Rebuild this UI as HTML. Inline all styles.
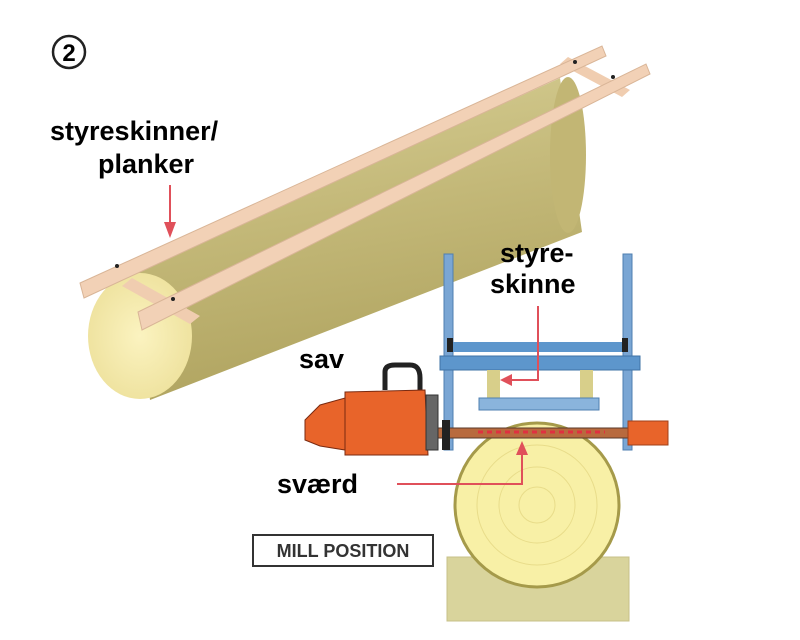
<!DOCTYPE html>
<html><head><style>
body{margin:0;background:#fff;}
svg{display:block}
text{font-family:"Liberation Sans",Arial,sans-serif;font-weight:bold;fill:#000}
</style></head><body>
<svg width="800" height="640" viewBox="0 0 800 640" xmlns="http://www.w3.org/2000/svg">
<defs>
<linearGradient id="lg" x1="0" y1="0" x2="0.25" y2="1">
<stop offset="0" stop-color="#d8d096"/><stop offset="0.5" stop-color="#c3b878"/><stop offset="1" stop-color="#b0a460"/>
</linearGradient>
<radialGradient id="ring" cx="0.5" cy="0.5" r="0.5">
<stop offset="0" stop-color="#fbf3c0"/><stop offset="1" stop-color="#efe3a0"/>
</radialGradient>
</defs>
<circle cx="69" cy="52" r="16" fill="none" stroke="#222" stroke-width="2.5"/>
<text x="69" y="61" font-size="24" text-anchor="middle">2</text>

<!-- log body -->
<polygon points="135,272 560,78 582,232 150,400" fill="url(#lg)"/>
<ellipse cx="568" cy="155" rx="18" ry="78" fill="#c2b674"/>
<ellipse cx="140" cy="336" rx="52" ry="63" fill="url(#ring)"/>
<!-- cross pieces -->
<polygon points="122,286 132,278 200,316 190,324" fill="#f0cdb0"/>
<polygon points="560,64 568,57 630,90 622,97" fill="#f0cdb0"/>
<!-- rails -->
<polygon points="80,283 602,46 606,56 84,298" fill="#f2d1b6" stroke="#d9b597" stroke-width="1"/>
<polygon points="138,312 646,64 650,74 142,330" fill="#f2d1b6" stroke="#d9b597" stroke-width="1"/>
<circle cx="117" cy="266" r="2" fill="#222"/><circle cx="173" cy="299" r="2" fill="#222"/>
<circle cx="575" cy="62" r="2" fill="#222"/><circle cx="613" cy="77" r="2" fill="#222"/>

<text x="50" y="140" font-size="27">styreskinner/</text>
<text x="98" y="173" font-size="27">planker</text>
<line x1="170" y1="185" x2="170" y2="228" stroke="#e0505a" stroke-width="2"/>
<polygon points="164,222 176,222 170,238" fill="#e0505a"/>

<!-- mill -->
<rect x="444" y="254" width="9" height="196" fill="#7aa6d4" stroke="#4f7fb0"/>
<rect x="623" y="254" width="9" height="196" fill="#7aa6d4" stroke="#4f7fb0"/>
<rect x="452" y="342" width="170" height="10" fill="#5d96cc"/>
<rect x="440" y="356" width="200" height="14" fill="#5d96cc" stroke="#3f73a6"/>
<rect x="447" y="338" width="6" height="14" fill="#222"/><rect x="622" y="338" width="6" height="14" fill="#222"/>
<rect x="487" y="370" width="13" height="32" fill="#d8cf8a"/>
<rect x="580" y="370" width="13" height="32" fill="#d8cf8a"/>
<rect x="447" y="557" width="182" height="64" fill="#d9d49c" stroke="#c7c088"/>
<circle cx="537" cy="505" r="82" fill="#f8f0a6" stroke="#a59a4a" stroke-width="3"/>
<circle cx="537" cy="505" r="60" fill="none" stroke="#e8dc8a" stroke-width="1"/>
<circle cx="537" cy="505" r="38" fill="none" stroke="#e8dc8a" stroke-width="1"/>
<circle cx="537" cy="505" r="18" fill="none" stroke="#e8dc8a" stroke-width="1"/>
<rect x="479" y="398" width="120" height="12" fill="#8ab4dc" stroke="#4f7fb0"/>
<!-- bar -->
<rect x="430" y="428" width="210" height="10" fill="#b86a3e" stroke="#5a3a2a"/>
<line x1="478" y1="432" x2="605" y2="432" stroke="#e03040" stroke-width="3" stroke-dasharray="5,4"/>
<rect x="628" y="421" width="40" height="24" fill="#e8642a" stroke="#a0401a"/>
<!-- chainsaw -->
<path d="M385,390 L385,372 Q385,365 395,365 L410,365 Q420,365 420,378 L420,395" fill="none" stroke="#222" stroke-width="5"/>
<polygon points="345,392 425,390 428,455 345,455" fill="#e8642a" stroke="#7a2a10"/>
<polygon points="305,420 320,405 345,398 345,450 320,446 305,440" fill="#e8642a" stroke="#7a2a10"/>
<rect x="426" y="395" width="12" height="55" fill="#666" stroke="#333"/>
<rect x="442" y="420" width="8" height="30" fill="#222"/>

<text x="500" y="262" font-size="27">styre-</text>
<text x="490" y="293" font-size="27">skinne</text>
<polyline points="538,306 538,380 510,380" fill="none" stroke="#e0505a" stroke-width="2"/>
<polygon points="512,374 512,386 500,380" fill="#e0505a"/>
<text x="299" y="368" font-size="27">sav</text>
<text x="277" y="493" font-size="27">sværd</text>
<polyline points="397,484 522,484 522,452" fill="none" stroke="#e0505a" stroke-width="2"/>
<polygon points="516,455 528,455 522,441" fill="#e0505a"/>
<rect x="253" y="535" width="180" height="31" fill="#fff" stroke="#333" stroke-width="2"/>
<text x="343" y="557" font-size="18" text-anchor="middle" style="fill:#333">MILL POSITION</text>
</svg>
</body></html>
